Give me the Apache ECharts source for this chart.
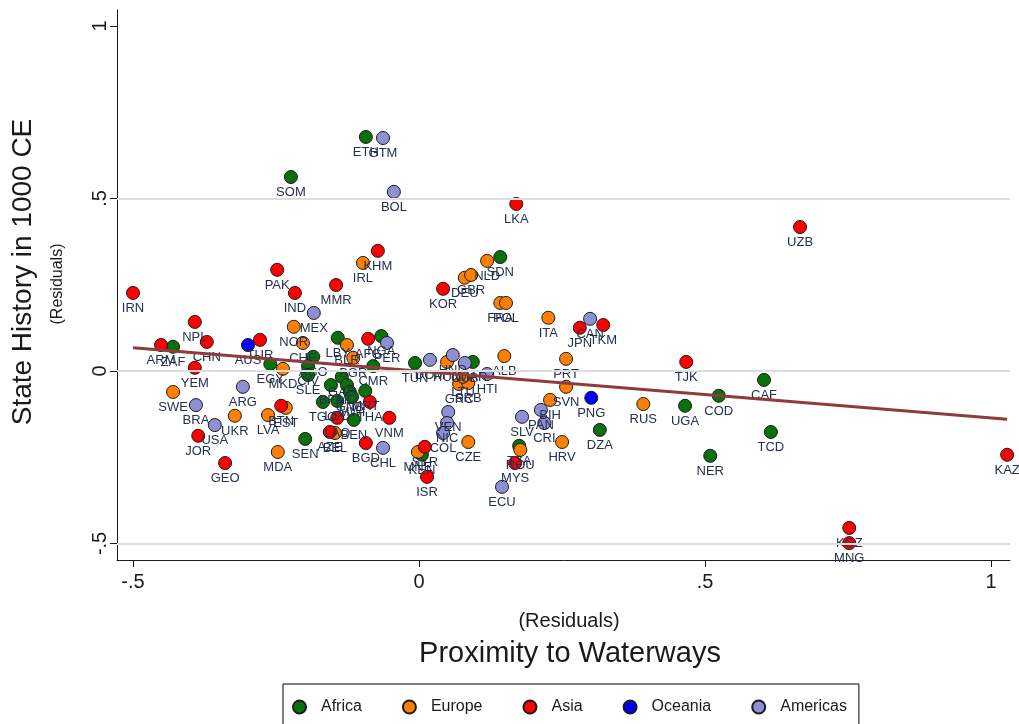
<!DOCTYPE html>
<html>
<head>
<meta charset="utf-8">
<script src="https://cdn.jsdelivr.net/npm/echarts@6/dist/echarts.min.js"></script>
<style>
  html, body { margin: 0; padding: 0; background: #fff; }
  #chart { width: 1019px; height: 724px; }
</style>
</head>
<body>
<div id="chart"></div>
<script>
// Residualised state history (y) against residualised proximity to waterways (x).
// Each row: [ISO code, x residual, y residual]
const africa = [
  ['ZAF', -0.430, 0.070], ['SOM', -0.224, 0.562], ['ETH', -0.093, 0.678],
  ['SDN', 0.142, 0.330], ['EGY', -0.260, 0.020], ['AGO', -0.185, 0.041],
  ['CIV', -0.194, 0.014], ['SLE', -0.194, -0.012], ['LBY', -0.142, 0.096],
  ['NGA', -0.066, 0.101], ['CMR', -0.080, 0.014], ['GAB', -0.135, -0.017],
  ['MLI', -0.126, -0.041], ['BFA', -0.154, -0.041], ['GNB', -0.121, -0.061],
  ['MRT', -0.094, -0.058], ['TGO', -0.168, -0.090], ['LSO', -0.143, -0.087],
  ['MWI', -0.117, -0.075], ['BEN', -0.114, -0.142], ['SEN', -0.199, -0.197],
  ['TUN', -0.007, 0.023], ['MAR', 0.094, 0.026], ['TZA', 0.175, -0.217],
  ['KEN', 0.005, -0.243], ['DZA', 0.316, -0.171], ['UGA', 0.465, -0.101],
  ['COD', 0.524, -0.072], ['CAF', 0.603, -0.026], ['TCD', 0.615, -0.177],
  ['NER', 0.509, -0.246]
];
const europe = [
  ['SWE', -0.430, -0.061], ['UKR', -0.322, -0.130], ['LVA', -0.264, -0.128],
  ['EST', -0.233, -0.107], ['MDA', -0.247, -0.235], ['IRL', -0.098, 0.313],
  ['NOR', -0.219, 0.128], ['CHE', -0.203, 0.081], ['MKD', -0.238, 0.006],
  ['BLR', -0.126, 0.075], ['BGR', -0.115, 0.038], ['BEL', -0.147, -0.180],
  ['NLD', 0.119, 0.319], ['DEU', 0.080, 0.270], ['GBR', 0.091, 0.278],
  ['FRA', 0.142, 0.197], ['POL', 0.152, 0.197], ['ITA', 0.226, 0.154],
  ['PRT', 0.257, 0.035], ['ALB', 0.149, 0.043], ['HUN', 0.049, 0.026],
  ['GRC', 0.070, -0.038], ['SRB', 0.086, -0.035], ['LTU', 0.077, -0.017],
  ['CZE', 0.086, -0.206], ['MNE', -0.002, -0.235], ['ROU', 0.177, -0.229],
  ['SVN', 0.257, -0.046], ['BIH', 0.229, -0.084], ['HRV', 0.250, -0.206],
  ['RUS', 0.392, -0.096]
];
const asia = [
  ['IRN', -0.500, 0.226], ['ARM', -0.451, 0.075], ['NPL', -0.392, 0.142],
  ['CHN', -0.371, 0.084], ['YEM', -0.392, 0.009], ['JOR', -0.386, -0.188],
  ['GEO', -0.339, -0.267], ['TUR', -0.278, 0.090], ['BTN', -0.241, -0.101],
  ['PAK', -0.248, 0.293], ['IND', -0.217, 0.226], ['MMR', -0.145, 0.249],
  ['KHM', -0.072, 0.348], ['AFG', -0.089, 0.093], ['THA', -0.086, -0.090],
  ['LAO', -0.143, -0.136], ['VNM', -0.052, -0.136], ['AZE', -0.156, -0.177],
  ['BGD', -0.093, -0.209], ['KOR', 0.042, 0.238], ['LKA', 0.170, 0.484],
  ['SYR', 0.010, -0.220], ['ISR', 0.014, -0.307], ['MYS', 0.168, -0.267],
  ['JPN', 0.281, 0.125], ['TKM', 0.322, 0.133], ['TJK', 0.467, 0.026],
  ['UZB', 0.666, 0.417], ['KGZ', 0.752, -0.455], ['MNG', 0.752, -0.499],
  ['KAZ', 1.028, -0.243]
];
const oceania = [
  ['AUS', -0.299, 0.075], ['PNG', 0.301, -0.078]
];
const americas = [
  ['GTM', -0.063, 0.675], ['BOL', -0.044, 0.519], ['MEX', -0.184, 0.168],
  ['PER', -0.056, 0.081], ['CAN', 0.299, 0.151], ['ARG', -0.308, -0.046],
  ['BRA', -0.390, -0.099], ['USA', -0.357, -0.157], ['CHL', -0.063, -0.223],
  ['DOM', 0.019, 0.032], ['HND', 0.059, 0.046], ['CUB', 0.080, 0.023],
  ['HTI', 0.119, -0.009], ['VEN', 0.051, -0.119], ['NIC', 0.049, -0.151],
  ['COL', 0.042, -0.180], ['ECU', 0.145, -0.336], ['SLV', 0.180, -0.133],
  ['PAN', 0.213, -0.113], ['CRI', 0.219, -0.151]
];

// Linear fit, drawn across the observed x range
const fitLine = [[-0.500, 0.067], [1.028, -0.140]];

// Axis ticks and horizontal reference lines
const xTicks = [-0.5, 0, 0.5, 1];
const yTicks = [-0.5, 0, 0.5, 1];
const gridValues = [-0.5, 0, 0.5];

const groups = [
  { name: 'Africa',   rows: africa,   color: '#0a700a' },
  { name: 'Europe',   rows: europe,   color: '#ff8000' },
  { name: 'Asia',     rows: asia,     color: '#ff0000' },
  { name: 'Oceania',  rows: oceania,  color: '#0000ff' },
  { name: 'Americas', rows: americas, color: '#8f8fd6' }
];

const FONT = "'Liberation Sans', Arial, Helvetica, sans-serif";
const INK = '#1a1a1a';

function tickText(v) {
  if (v === 0) return '0';
  return String(v).replace('0.', '.');
}

const chart = echarts.init(document.getElementById('chart'), null, { renderer: 'canvas' });

const scatterSeries = groups.map(g => ({
  name: g.name,
  type: 'scatter',
  data: g.rows.map(r => ({ name: r[0], value: [r[1], r[2]] })),
  symbol: 'circle',
  symbolSize: 13,
  itemStyle: { color: g.color, borderColor: '#1a1a1a', borderWidth: 1, opacity: 1 },
  label: {
    show: true,
    position: 'bottom',
    distance: 2,
    formatter: p => p.name,
    fontFamily: FONT,
    fontSize: 13,
    color: '#233050'
  },
  emphasis: { disabled: true },
  z: 3
}));

chart.setOption({
  animation: false,
  backgroundColor: '#ffffff',
  textStyle: { fontFamily: FONT },
  grid: { left: 117, right: 9, top: 10, bottom: 164, containLabel: false },
  xAxis: {
    type: 'value',
    min: -0.528,
    max: 1.033,
    axisLine: { show: true, onZero: false, lineStyle: { color: INK, width: 1 } },
    axisTick: { show: true, length: 7, customValues: xTicks, lineStyle: { color: INK } },
    axisLabel: {
      customValues: xTicks,
      formatter: tickText,
      margin: 12,
      fontSize: 20,
      color: INK,
      fontFamily: FONT
    },
    splitLine: { show: false }
  },
  yAxis: {
    type: 'value',
    min: -0.548,
    max: 1.046,
    axisLine: { show: true, onZero: false, lineStyle: { color: INK, width: 1 } },
    axisTick: { show: true, length: 7, customValues: yTicks, lineStyle: { color: INK } },
    axisLabel: {
      customValues: yTicks,
      formatter: tickText,
      rotate: 90,
      margin: 7,
      fontSize: 20,
      color: INK,
      fontFamily: FONT
    },
    splitLine: { show: false }
  },
  legend: {
    data: groups.map(g => g.name),
    left: 283,
    top: 684,
    orient: 'horizontal',
    icon: 'circle',
    itemWidth: 13,
    itemHeight: 13,
    itemGap: 40,
    padding: [15, 12, 20, 9],
    borderColor: '#000',
    borderWidth: 1,
    selectedMode: false,
    textStyle: { fontFamily: FONT, fontSize: 16, color: INK, padding: [0, 0, 0, 10] }
  },
  graphic: [
    {
      type: 'text', x: 23, y: 272, rotation: Math.PI / 2,
      style: { text: 'State History in 1000 CE', font: '28px ' + FONT, fill: INK,
               textAlign: 'center', textVerticalAlign: 'middle' }
    },
    {
      type: 'text', x: 58, y: 284, rotation: Math.PI / 2,
      style: { text: '(Residuals)', font: '16px ' + FONT, fill: INK,
               textAlign: 'center', textVerticalAlign: 'middle' }
    },
    {
      type: 'text', x: 569, y: 621,
      style: { text: '(Residuals)', font: '20px ' + FONT, fill: INK,
               textAlign: 'center', textVerticalAlign: 'middle' }
    },
    {
      type: 'text', x: 570, y: 654,
      style: { text: 'Proximity to Waterways', font: '29px ' + FONT, fill: INK,
               textAlign: 'center', textVerticalAlign: 'middle' }
    }
  ],
  series: [
    {
      name: 'reference lines',
      type: 'line',
      data: [],
      silent: true,
      z: 1,
      markLine: {
        silent: true,
        symbol: ['none', 'none'],
        label: { show: false },
        lineStyle: { color: '#dedede', width: 2, type: 'solid' },
        data: gridValues.map(v => ({ yAxis: v }))
      }
    },
    ...scatterSeries,
    {
      name: 'Fitted values',
      type: 'line',
      data: fitLine,
      showSymbol: false,
      symbol: 'none',
      silent: true,
      lineStyle: { color: '#8e3b3b', width: 3 },
      emphasis: { disabled: true },
      z: 4
    }
  ]
});
</script>
</body>
</html>
